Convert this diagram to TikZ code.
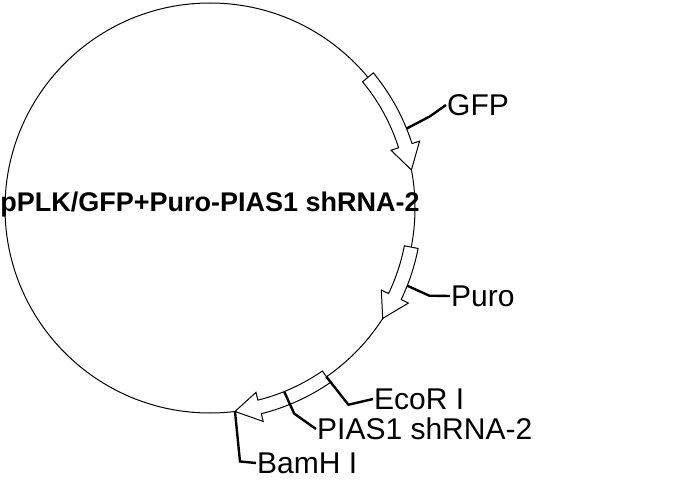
\documentclass[tikz,border=0pt]{standalone}
\usepackage{fontspec}
\setmainfont{Liberation Sans}
\usetikzlibrary{positioning}

\newcommand{\genearrow}[2]{% start angle, tip angle (clockwise)
  \pgfmathsetmacro{\hb}{#2+7}
  \draw[gene] (#1:212) arc[start angle=#1, end angle=\hb, radius=212]
    -- (\hb:220) -- (#2:205) -- (\hb:190) -- (\hb:198)
    arc[start angle=\hb, end angle=#1, radius=198] -- cycle;}

\begin{document}
\begin{tikzpicture}[
        x=1pt, y=1pt,
        gene/.style={draw, fill=white, line width=1pt},
        leader/.style={line width=2.4pt},
        lbl/.style={font=\fontsize{30}{34}\selectfont, inner sep=1pt, anchor=west}
    ]
        \useasboundingbox (0,0) rectangle (680,480);
        % Plasmid backbone
        \begin{scope}[shift={(210,272)}]
        \draw[line width=1pt] (0,0) circle[radius=205];
        \node[font=\bfseries\fontsize{27}{32}\selectfont] (name) at (0,3) {pPLK/GFP+Puro-PIAS1 shRNA-2};
        % Genes
        \genearrow{39.6}{10.7}
        \genearrow{-11}{-32.6}
        \genearrow{-55.4}{-83}
        % Leader anchors on the backbone
        \coordinate (gfp) at (22:212);
        \coordinate (puro) at (-21.5:212);
        \coordinate (ecor) at (-55.4:205);
        \coordinate (pias) at (-68:198);
        \coordinate (bamh) at (-83:205);
        \end{scope}

        % Labels
        \node[lbl] (gfpl) at (446,375) {GFP};
        \node[lbl] (purol) at (450,184) {Puro};
        \node[lbl] (ecorl) at (373,81) {EcoR I};
        \node[lbl] (piasl) at (316,51) {PIAS1 shRNA-2};
        \node[lbl] (bamhl) at (256,17) {BamH I};

        \draw[leader] (gfp) -- ++(23,12) -- (gfpl.west);
        \draw[leader] (puro) -- ++(22,-10) -- (purol.west);
        \draw[leader] (ecor) -- ++(22,-28) -- (ecorl.west);
        \draw[leader] (pias) -- ++(10,-22) -- (piasl.west);
        \draw[leader] (bamh) -- ++(5,-50) -- (bamhl.west);
    \end{tikzpicture}
\end{document}
